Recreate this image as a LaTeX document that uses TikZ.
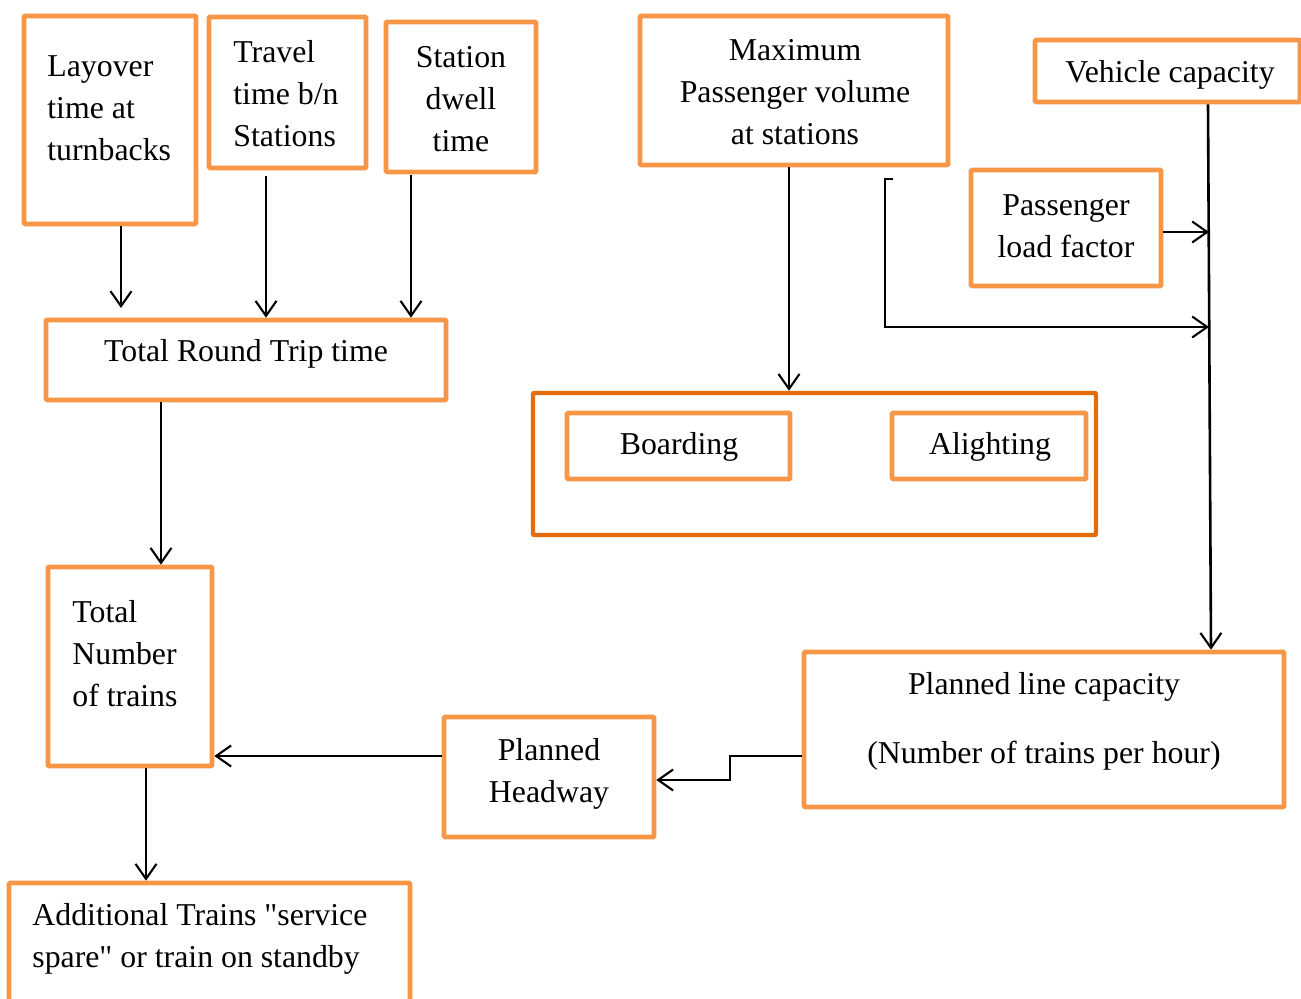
\documentclass[tikz,border=0pt]{standalone}
\usepackage{fontspec}
\setmainfont{Liberation Serif}[Ligatures=TeXOff]
\usetikzlibrary{fit,arrows.meta}
\definecolor{boxor}{HTML}{F79646}
\definecolor{outeror}{HTML}{E46C0A}
\tikzset{
  box/.style={draw=boxor, line width=2.3pt, inner sep=0pt, rounded corners=0.5pt},
  outerbox/.style={draw=outeror, line width=2.2pt, inner sep=0pt, rounded corners=0.5pt},
  txt/.style={inner sep=0pt, font=\fontsize{15.9}{21}\selectfont},
  arr/.style={draw=black, line width=1.05pt, -{Straight Barb[length=7.5pt,width=10.5pt,line width=1.05pt]}},
}
\begin{document}
\begin{tikzpicture}[x=0.5pt,y=-0.5pt]
\useasboundingbox (0,0) rectangle (1301,999);
% boxes
\node[box, fit={(24,16) (196,224)}] (layover) {};
\node[box, fit={(209,17) (366,168)}] (travel) {};
\node[box, fit={(386,22) (536,172)}] (station) {};
\node[box, fit={(640,16) (948,165)}] (maxp) {};
\node[box, fit={(1035,40) (1300,102)}] (vehicle) {};
\node[box, fit={(971,170) (1161,286)}] (load) {};
\node[box, fit={(46,320) (446,400)}] (rtt) {};
\node[outerbox, fit={(533,393) (1096,535)}] (outer) {};
\node[box, fit={(567,413) (790,479)}] (board) {};
\node[box, fit={(892,413) (1086,479)}] (alight) {};
\node[box, fit={(48,567) (212,766)}] (tnum) {};
\node[box, fit={(444,717) (654,837)}] (headway) {};
\node[box, fit={(804,652) (1284,807)}] (plc) {};
\node[box, fit={(9,883) (410,1012)}] (add) {};
% texts
\node[txt, anchor=west, align=left] (tlay) at (47,108) {Layover\\time at\\turnbacks};
\node[txt, anchor=west, align=left] (ttra) at (233,94) {Travel\\time b/n\\Stations};
\node[txt, align=center] (tsta) at (461,99) {Station\\dwell\\time};
\node[txt, align=center] (tmax) at (795,92) {Maximum\\Passenger volume\\at stations};
\node[txt] (tveh) at (1170,75) {Vehicle capacity};
\node[txt, align=center] (tload) at (1066,226) {Passenger\\load factor};
\node[txt] (trtt) at (246,354) {Total Round Trip time};
\node[txt] (tboard) at (679,447) {Boarding};
\node[txt] (talight) at (990,447) {Alighting};
\node[txt, anchor=west, align=left] (ttnum) at (72,654) {Total\\Number\\of trains};
\node[txt, align=center] (thead) at (549,774) {Planned\\Headway};
\node[txt, align=center] (tplc) at (1044,721.5) {Planned line capacity\\[13.5pt](Number of trains per hour)};
\node[txt, anchor=west, align=left] (tadd) at (32,939) {Additional Trains "service\\spare" or train on standby};
% free ends
\coordinate (lt) at (121,308);
\coordinate (vl1) at (1209,232);
\coordinate (vl2) at (1209,327);
\coordinate (b0) at (893,179);
% connectors
\draw[arr] (layover.south -| 121,0) -- (lt);
\draw[arr] ([yshift=-3pt]travel.south -| 266,0) -- (rtt.north -| 266,0);
\draw[arr] ([yshift=-0.5pt]station.south -| 411,0) -- (rtt.north -| 411,0);
\draw[arr] (maxp.south -| 789,0) -- (outer.north -| 789,0);
\draw[arr, line width=1.3pt] (vehicle.south -| 1208,0) -- (plc.north -| 1211,0);
\draw[arr] (load.east |- 0,232) -- (vl1);
\draw[arr] (b0) -- (885,179) -- (885,327) -- (vl2);
\draw[arr] (rtt.south -| 161,0) -- (tnum.north -| 161,0);
\draw[arr] (plc.west |- 0,756) -- (730,756) -- (730,780) -- (headway.east |- 0,780);
\draw[arr] (headway.west |- 0,756) -- (tnum.east |- 0,756);
\draw[arr] (tnum.south -| 146,0) -- (add.north -| 146,0);
\end{tikzpicture}
\end{document}
